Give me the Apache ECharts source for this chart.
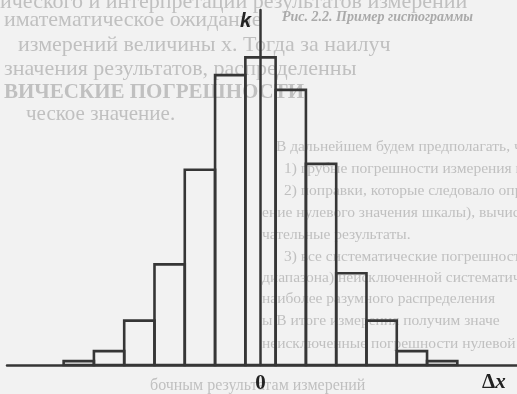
<!DOCTYPE html>
<html>
<head>
<meta charset="utf-8">
<style>
  html, body { margin: 0; padding: 0; background: #f2f2f2; }
  #chart { width: 517px; height: 394px; }
</style>
<script src="https://cdn.jsdelivr.net/npm/echarts@6/dist/echarts.min.js"></script>
</head>
<body>
<div id="chart"></div>
<script>
// Histogram of measurement deviations: bin centres (in bin widths) and counts k
const binCenters = [-6, -5, -4, -3, -2, -1, 0, 1, 2, 3, 4, 5, 6];
const counts = [1.3, 4.7, 15, 34, 66, 98, 104, 93, 68, 31, 15, 4.7, 1.3];
const xTickLabels = [0];

// Faint show-through of the printed page behind the figure
const pageLines = [
  { x: 0,   y: -9,  s: 22, t: 'ического и интерпретации результатов измерений' },
  { x: 4,   y: 9,   s: 22, t: 'иматематическое ожидание' },
  { x: 18,  y: 34,  s: 22, t: 'измерений величины x. Тогда за наилуч' },
  { x: 4,   y: 58,  s: 22, t: 'значения результатов, распределенны' },
  { x: 4,   y: 82,  s: 21, t: 'ВИЧЕСКИЕ ПОГРЕШНОСТИ', bold: true },
  { x: 26,  y: 104, s: 21, t: 'ческое значение.' },
  { x: 276, y: 139, s: 15.5, t: 'В дальнейшем будем предполагать, что' },
  { x: 284, y: 161, s: 15.5, t: '1) грубые погрешности измерения иск' },
  { x: 284, y: 183, s: 15.5, t: '2) поправки, которые следовало опр' },
  { x: 262, y: 205, s: 15.5, t: 'ение нулевого значения шкалы), вычис' },
  { x: 262, y: 227, s: 15.5, t: 'чательные результаты.' },
  { x: 284, y: 249, s: 15.5, t: '3) все систематические погрешности' },
  { x: 262, y: 270, s: 15.5, t: 'диапазона) неисключенной систематич' },
  { x: 262, y: 291, s: 15.5, t: 'наиболее разумного распределения' },
  { x: 262, y: 313, s: 15.5, t: 'ы В итоге измерения получим значе' },
  { x: 262, y: 336, s: 15.5, t: 'неисключенные погрешности нулевой' },
  { x: 150, y: 378, s: 16, t: 'бочным результатам измерений' }
];

const chart = echarts.init(document.getElementById('chart'), null, { renderer: 'canvas' });

const ink = '#363636';
const ghost = '#c0c0c0';

const graphics = pageLines.map(l => ({
  type: 'text',
  left: l.x,
  top: l.y,
  z: -10,
  silent: true,
  style: {
    text: l.t,
    fill: ghost,
    font: (l.bold ? 'bold ' : '') + l.s + 'px "Liberation Serif", "DejaVu Serif", serif'
  }
}));

graphics.push({
  type: 'text', left: 282, top: 10, z: -10, silent: true,
  style: { text: 'Рис. 2.2. Пример гистограммы', fill: '#aaaaaa',
           font: 'italic bold 14px "Liberation Serif", serif' }
});

// Axis names
graphics.push({
  type: 'text', left: 240, top: 11, z: 20,
  style: { text: 'k', fill: '#222', font: 'italic bold 20px "Liberation Sans", Arial, sans-serif' }
});
graphics.push({
  type: 'text', left: 482, top: 372, z: 20,
  style: {
    text: '{d|Δ}{x|x}',
    rich: {
      d: { fill: '#222', font: 'bold 21px "Liberation Serif", serif' },
      x: { fill: '#222', font: 'italic bold 21px "Liberation Serif", serif' }
    }
  }
});

chart.setOption({
  animation: false,
  backgroundColor: '#f2f2f2',
  grid: { left: 7, right: 0, top: 10, bottom: 27 },
  xAxis: {
    type: 'value',
    min: -8.37,
    max: 8.47,
    axisLine: { show: true, lineStyle: { color: ink, width: 2.5 } },
    axisTick: { show: false },
    splitLine: { show: false },
    axisLabel: {
      customValues: xTickLabels,
      margin: 8,
      color: '#222',
      fontSize: 21,
      fontWeight: 'bold',
      fontFamily: '"Liberation Serif", "DejaVu Serif", serif'
    }
  },
  yAxis: {
    type: 'value',
    min: 0,
    max: 120,
    axisLine: { show: true, onZero: true, lineStyle: { color: ink, width: 2.5 } },
    axisTick: { show: false },
    axisLabel: { show: false },
    splitLine: { show: false }
  },
  graphic: graphics,
  series: [{
    type: 'custom',
    data: binCenters.map((c, i) => [c, counts[i]]),
    renderItem: function (params, api) {
      const c = api.value(0);
      const v = api.value(1);
      const p0 = api.coord([c - 0.5, 0]);
      const p1 = api.coord([c + 0.5, v]);
      return {
        type: 'rect',
        shape: { x: p0[0], y: p1[1], width: p1[0] - p0[0], height: p0[1] - p1[1] },
        style: { fill: 'rgba(0,0,0,0)', stroke: ink, lineWidth: 2.6 }
      };
    }
  }]
});
</script>
</body>
</html>
